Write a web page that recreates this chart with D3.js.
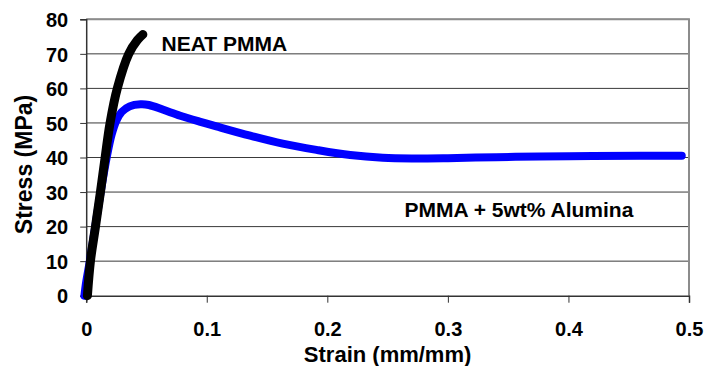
<!DOCTYPE html>
<html>
<head>
<meta charset="utf-8">
<script src="https://cdn.jsdelivr.net/npm/d3@7"></script>
<style>
  html, body { margin: 0; padding: 0; background: #fff; }
  text { font-family: "Liberation Sans", Arial, sans-serif; font-weight: bold; fill: #000; }
</style>
</head>
<body>
<div id="chart"></div>
<script>
// datos
var neatStrain = [0.001, 0.0035, 0.0077, 0.0118, 0.0157, 0.0198, 0.0258, 0.0353, 0.0425, 0.047];
var neatStress = [0, 10, 20, 30, 40, 50, 60, 70, 74, 75.6];

var aluStrain = [-0.0015, 0.0, 0.003, 0.0075, 0.012, 0.017, 0.021, 0.0248, 0.0295, 0.036, 0.045, 0.052, 0.064, 0.078, 0.094, 0.108, 0.136, 0.163, 0.191, 0.219, 0.246, 0.27, 0.3, 0.34, 0.376, 0.42, 0.46, 0.494];
var aluStress = [0, 4, 10, 20, 30, 40, 46.5, 50.5, 53.2, 54.8, 55.4, 55.2, 53.8, 52.1, 50.4, 49.0, 46.3, 44.0, 42.2, 40.7, 39.9, 39.7, 39.8, 40.1, 40.3, 40.4, 40.5, 40.5];

var xTicks = [0, 0.1, 0.2, 0.3, 0.4, 0.5];
var yTicks = [0, 10, 20, 30, 40, 50, 60, 70, 80];

var labels = ['NEAT PMMA', 'PMMA + 5wt% Alumina'];
var labelPos = [[0.0625, 70.8], [0.264, 22.7]]; // strain, stress (linea base del texto)

var width = 709, height = 366;
var margin = { top: 19.3, right: 20, bottom: 70.3, left: 86.2 };
var w = width - margin.left - margin.right;
var h = height - margin.top - margin.bottom;

var svg = d3.select('#chart').append('svg')
    .attr('width', width)
    .attr('height', height);

var g = svg.append('g')
    .attr('transform', 'translate(' + margin.left + ',' + margin.top + ')');

var x = d3.scaleLinear().domain([0, 0.5]).range([0, w]);
var y = d3.scaleLinear().domain([0, 80]).range([h, 0]);

// lineas de la grilla
g.selectAll('.grid')
    .data(yTicks.filter(function (d) { return d > 0; }))
    .enter().append('line')
    .attr('x1', 0).attr('x2', w)
    .attr('y1', function (d) { return y(d); })
    .attr('y2', function (d) { return y(d); })
    .attr('stroke', '#3a3a3a')
    .attr('stroke-width', 1);

// borde del area (arriba y derecha en gris)
g.append('path')
    .attr('d', 'M0,' + y(80) + 'H' + x(0.5) + 'V' + y(0))
    .attr('fill', 'none')
    .attr('stroke', '#8c8c8c')
    .attr('stroke-width', 2);

// EJES
var xAxis = d3.axisBottom(x).tickValues(xTicks).tickSize(7).tickPadding(19)
    .tickFormat(function (d) { return d === 0 ? '0' : d3.format('.1f')(d); });
var yAxis = d3.axisLeft(y).tickValues(yTicks).tickSize(6).tickPadding(12);

var gx = g.append('g').attr('transform', 'translate(0,' + h + ')').call(xAxis);
var gy = g.append('g').call(yAxis);

[gx, gy].forEach(function (a) {
    a.select('.domain').attr('stroke', '#333').attr('stroke-width', 1.5);
    a.selectAll('.tick line').attr('stroke', '#333');
    a.selectAll('text').attr('font-size', '20px').attr('font-family', '"Liberation Sans", Arial, sans-serif').attr('font-weight', 'bold').attr('fill', '#000');
});
gy.selectAll('text').attr('dy', '0.36em');

// CURVAS
var line = d3.line()
    .x(function (d) { return x(d[0]); })
    .y(function (d) { return y(d[1]); })
    .curve(d3.curveCatmullRom.alpha(0.5));

var aluData = d3.zip(aluStrain, aluStress);
var neatData = d3.zip(neatStrain, neatStress);

g.append('path')
    .datum(aluData)
    .attr('d', line)
    .attr('fill', 'none')
    .attr('stroke', '#0000ff')
    .attr('stroke-width', 8)
    .attr('stroke-linecap', 'round')
    .attr('stroke-linejoin', 'round');

g.append('path')
    .datum(neatData)
    .attr('d', line)
    .attr('fill', 'none')
    .attr('stroke', '#000')
    .attr('stroke-width', 9)
    .attr('stroke-linecap', 'round')
    .attr('stroke-linejoin', 'round');

// ETIQUETAS
g.selectAll('.lbl')
    .data(labels)
    .enter().append('text')
    .attr('x', function (d, i) { return x(labelPos[i][0]); })
    .attr('y', function (d, i) { return y(labelPos[i][1]); })
    .attr('font-size', '21px')
    .text(function (d) { return d; });

// TITULOS
svg.append('text')
    .attr('x', margin.left + w / 2)
    .attr('y', 362)
    .attr('text-anchor', 'middle')
    .attr('font-size', '22px')
    .text('Strain (mm/mm)');

svg.append('text')
    .attr('transform', 'translate(32,' + 164.5 + ') rotate(-90)')
    .attr('text-anchor', 'middle')
    .attr('font-size', '23px')
    .text('Stress (MPa)');
</script>
</body>
</html>
